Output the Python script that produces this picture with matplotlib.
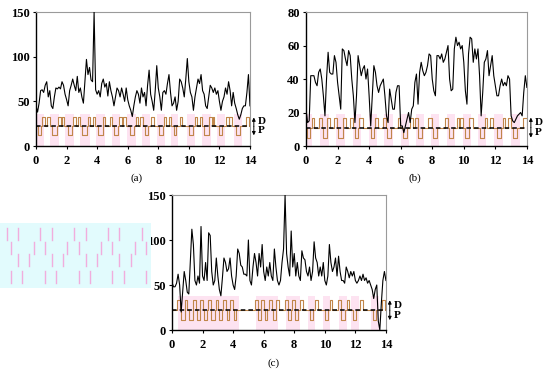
import numpy as np
import matplotlib
matplotlib.use("Agg")
import matplotlib.pyplot as plt
from matplotlib.patches import Rectangle

plt.rcParams['font.family'] = ['Liberation Serif', 'DejaVu Serif']

# sampling grid (hours), 0.1 step
t = np.round(np.arange(141) * 0.1, 1)

val_a = [45, 38, 48, 62, 63, 60, 68, 72, 55, 62, 45, 42, 55, 65, 64, 66, 64, 72, 68, 58,
         52, 45, 62, 68, 75, 68, 62, 78, 60, 65, 55, 48, 72, 97, 80, 88, 74, 72, 150, 63,
         58, 62, 55, 70, 75, 66, 70, 56, 72, 62, 55, 45, 55, 65, 62, 55, 65, 58, 50, 65,
         52, 45, 40, 33, 45, 55, 62, 58, 48, 65, 55, 60, 45, 68, 85, 58, 50, 40, 62, 90,
         65, 55, 40, 60, 62, 58, 70, 80, 60, 45, 48, 55, 40, 50, 75, 72, 65, 55, 75, 98,
         72, 60, 55, 40, 55, 65, 75, 70, 80, 62, 58, 45, 42, 55, 68, 65, 60, 65, 58, 62,
         50, 40, 50, 55, 65, 58, 72, 62, 45, 60, 48, 42, 35, 30, 35, 42, 45, 45, 60, 80,
         45]

val_b = [22, 14, 15, 42, 42, 42, 38, 36, 44, 46, 40, 30, 18, 40, 56, 44, 43, 43, 54, 50,
         38, 30, 22, 58, 57, 52, 48, 57, 54, 40, 30, 14, 30, 54, 48, 42, 46, 48, 40, 46,
         30, 12, 30, 48, 44, 36, 32, 36, 38, 40, 30, 18, 14, 34, 28, 22, 22, 32, 36, 36,
         12, 12, 8, 12, 16, 20, 14, 22, 24, 38, 43, 25, 44, 50, 45, 42, 44, 48, 55, 54,
         40, 33, 30, 54, 54, 52, 55, 50, 52, 56, 60, 40, 33, 34, 58, 65, 60, 62, 58, 60,
         50, 33, 25, 55, 65, 64, 50, 58, 52, 58, 42, 18, 32, 50, 52, 57, 42, 48, 54, 42,
         36, 30, 30, 36, 40, 36, 38, 36, 42, 40, 18, 15, 14, 16, 18, 19, 20, 18, 32, 42,
         35]

val_c = [53, 48, 48, 52, 62, 50, 20, 42, 65, 55, 42, 40, 75, 112, 95, 55, 50, 60, 52, 115,
         60, 55, 75, 55, 108, 105, 65, 50, 55, 80, 60, 45, 38, 58, 80, 75, 65, 68, 80, 60,
         50, 45, 60, 90, 85, 72, 70, 62, 62, 60, 100, 55, 50, 70, 85, 75, 60, 85, 70, 95,
         65, 55, 70, 60, 75, 60, 55, 90, 70, 55, 50, 55, 75, 90, 150, 85, 70, 60, 110, 70,
         85, 60, 75, 60, 55, 88, 80, 78, 65, 60, 70, 55, 65, 98, 80, 75, 60, 70, 60, 75,
         55, 50, 60, 95, 75, 65, 70, 80, 60, 82, 65, 55, 55, 52, 70, 65, 58, 65, 60, 65,
         55, 52, 55, 60, 55, 62, 55, 58, 52, 55, 50, 45, 35, 45, 50, 10, 0, 30, 55, 65,
         55]

# D (+1) / P (-1) pulses: (start, end, sign)
pulses_a = [(0.1, 0.35, -1), (0.4, 0.6, 1), (0.75, 0.9, 1), (1.05, 1.35, -1), (1.45, 1.63, 1),
            (1.67, 1.85, 1), (2.06, 2.33, -1), (2.43, 2.6, 1), (2.72, 2.87, 1), (3.04, 3.35, -1),
            (3.37, 3.52, 1), (3.7, 3.85, 1), (4.07, 4.35, -1), (4.38, 4.52, 1), (4.83, 4.98, 1),
            (5.1, 5.37, -1), (5.4, 5.6, 1), (5.7, 5.87, 1), (6.13, 6.41, -1), (6.52, 6.7, 1),
            (6.78, 7.0, 1), (7.1, 7.33, -1), (7.54, 7.72, 1), (8.04, 8.3, -1), (8.37, 8.52, 1),
            (8.67, 8.85, 1), (9.0, 9.17, -1), (9.39, 9.54, 1), (10.04, 10.26, -1), (10.37, 10.52, 1),
            (10.7, 10.85, 1), (11.02, 11.3, -1), (11.35, 11.5, 1), (11.57, 11.67, 1), (12.0, 12.2, -1),
            (12.43, 12.6, 1), (12.65, 12.83, 1), (13.09, 13.35, -1), (13.74, 13.96, 1)]

pulses_b = [(0.05, 0.25, -1), (0.4, 0.53, 1), (0.82, 0.99, 1), (1.05, 1.31, -1), (1.35, 1.52, 1),
            (1.78, 1.95, 1), (2.05, 2.33, -1), (2.37, 2.54, 1), (2.79, 2.96, 1), (3.1, 3.32, -1),
            (3.38, 3.6, 1), (4.12, 4.33, -1), (4.38, 4.55, 1), (4.9, 5.08, 1), (5.12, 5.37, -1),
            (5.81, 5.96, 1), (6.17, 6.38, -1), (6.6, 6.77, 1), (6.91, 7.08, 1), (7.12, 7.34, -1),
            (7.76, 7.97, 1), (8.08, 8.29, -1), (8.82, 8.99, 1), (9.09, 9.3, -1), (9.56, 9.7, 1),
            (9.73, 9.92, 1), (10.08, 10.3, -1), (10.36, 10.57, 1), (11.04, 11.25, -1), (11.35, 11.5, 1),
            (11.67, 11.84, 1), (12.09, 12.35, -1), (12.47, 12.62, 1), (12.83, 13.0, 1), (13.15, 13.4, -1),
            (13.78, 14.0, 1)]

pulses_c = [(0.35, 0.55, 1), (0.57, 0.83, -1), (0.85, 1.0, 1), (1.09, 1.36, -1), (1.4, 1.58, 1),
            (1.62, 1.81, -1), (1.86, 2.03, 1), (2.07, 2.29, -1), (2.36, 2.53, 1), (2.58, 2.79, -1),
            (2.86, 3.01, 1), (3.08, 3.3, -1), (3.34, 3.56, 1), (3.6, 3.76, -1), (3.8, 4.0, 1),
            (4.04, 4.21, -1), (5.41, 5.61, 1), (5.65, 5.81, -1), (5.85, 6.03, 1), (6.07, 6.24, -1),
            (6.35, 6.55, 1), (6.59, 6.79, -1), (6.83, 6.99, 1), (7.38, 7.58, 1), (7.62, 7.82, -1),
            (7.86, 8.03, 1), (8.08, 8.25, -1), (8.36, 8.58, 1), (9.02, 9.24, -1), (9.34, 9.56, 1),
            (10.0, 10.22, -1), (10.33, 10.5, 1), (10.87, 11.05, 1), (11.09, 11.31, -1), (11.42, 11.59, 1),
            (11.86, 12.07, -1), (12.29, 12.51, 1), (13.17, 13.38, -1), (13.71, 13.93, 1)]

panels = [
    dict(rect=[0.0655, 0.6075, 0.389, 0.360], val=val_a, pulses=pulses_a, ymax=150,
         yticks=[0, 50, 100, 150], base=22, amp=10, label='(a)', lab_xy=(0.248, 0.522)),
    dict(rect=[0.5564, 0.6075, 0.4016, 0.360], val=val_b, pulses=pulses_b, ymax=80,
         yticks=[0, 20, 40, 60, 80], base=11, amp=6, label='(b)', lab_xy=(0.754, 0.522)),
    dict(rect=[0.3127, 0.1129, 0.389, 0.3629], val=val_c, pulses=pulses_c, ymax=150,
         yticks=[0, 50, 100, 150], base=22, amp=11, label='(c)', lab_xy=(0.498, 0.025)),
]

fig = plt.figure(figsize=(5.5, 3.72), dpi=100)

# faint scan artefact left of panel (c)
fig.patches.append(Rectangle((0.0, 0.225), 0.275, 0.175, transform=fig.transFigure,
                             facecolor='#e2fbfd', edgecolor='none', zorder=0))
for i in range(13):
    for j, yy in enumerate([0.372, 0.333, 0.30, 0.255]):
        if (i + j) % 3 != 2:
            xx = 0.012 + i * 0.0205 + (j % 2) * 0.008
            fig.lines.append(plt.Line2D([xx, xx], [yy - 0.016, yy + 0.016],
                                        transform=fig.transFigure, color='#f59ad6',
                                        lw=1.0, alpha=0.8))

for p in panels:
    ax = fig.add_axes(p['rect'])
    base, amp = p['base'], p['amp']

    # pink background bands around P pulses
    for s, e, sg in p['pulses']:
        if sg < 0:
            ax.add_patch(Rectangle((s - 0.15, 0), (e - s) + 0.3, base + amp * 1.4,
                                   facecolor='#fde3f1', edgecolor='none', zorder=0))

    # square-wave D/P schedule
    xs, ys = [0], [base]
    for s, e, sg in p['pulses']:
        xs += [s, s, e, e]
        ys += [base, base + sg * amp, base + sg * amp, base]
    xs.append(14)
    ys.append(base)
    ax.plot(xs, ys, color='#c0864a', lw=0.8, zorder=2)
    ax.axhline(base, color='black', lw=1.1, ls=(0, (3, 2)), zorder=3)

    ax.plot(t, p['val'], color='black', lw=0.8, zorder=4)

    ax.set_xlim(0, 14)
    ax.set_ylim(0, p['ymax'])
    ax.set_xticks(range(0, 15, 2))
    ax.set_yticks(p['yticks'])
    for lab in ax.get_xticklabels() + ax.get_yticklabels():
        lab.set_fontweight('bold')
        lab.set_fontsize(9)
    ax.tick_params(axis='x', length=2.5, width=0.8, pad=4)
    ax.tick_params(axis='y', length=2.5, width=0.8, pad=2)
    for side in ['top', 'right']:
        ax.spines[side].set_color('#9a9a9a')
        ax.spines[side].set_linewidth(0.8)
    for side in ['left', 'bottom']:
        ax.spines[side].set_linewidth(1.0)

    # D / P markers at the right edge
    ax.annotate('', xy=(1.018, base + amp), xytext=(1.018, base),
                xycoords=('axes fraction', 'data'),
                arrowprops=dict(arrowstyle='-|>', lw=0.7, color='black',
                                mutation_scale=5, shrinkA=0, shrinkB=0))
    ax.annotate('', xy=(1.018, base - amp), xytext=(1.018, base),
                xycoords=('axes fraction', 'data'),
                arrowprops=dict(arrowstyle='-|>', lw=0.7, color='black',
                                mutation_scale=5, shrinkA=0, shrinkB=0))
    ax.text(1.035, base + amp * 0.5, 'D', transform=ax.get_yaxis_transform(),
            fontsize=8, fontweight='bold', va='center', ha='left')
    ax.text(1.035, base - amp * 0.5, 'P', transform=ax.get_yaxis_transform(),
            fontsize=8, fontweight='bold', va='center', ha='left')

    fig.text(p['lab_xy'][0], p['lab_xy'][1], p['label'], fontsize=8,
             ha='center', va='center')

fig.savefig('out.png', dpi=100)
